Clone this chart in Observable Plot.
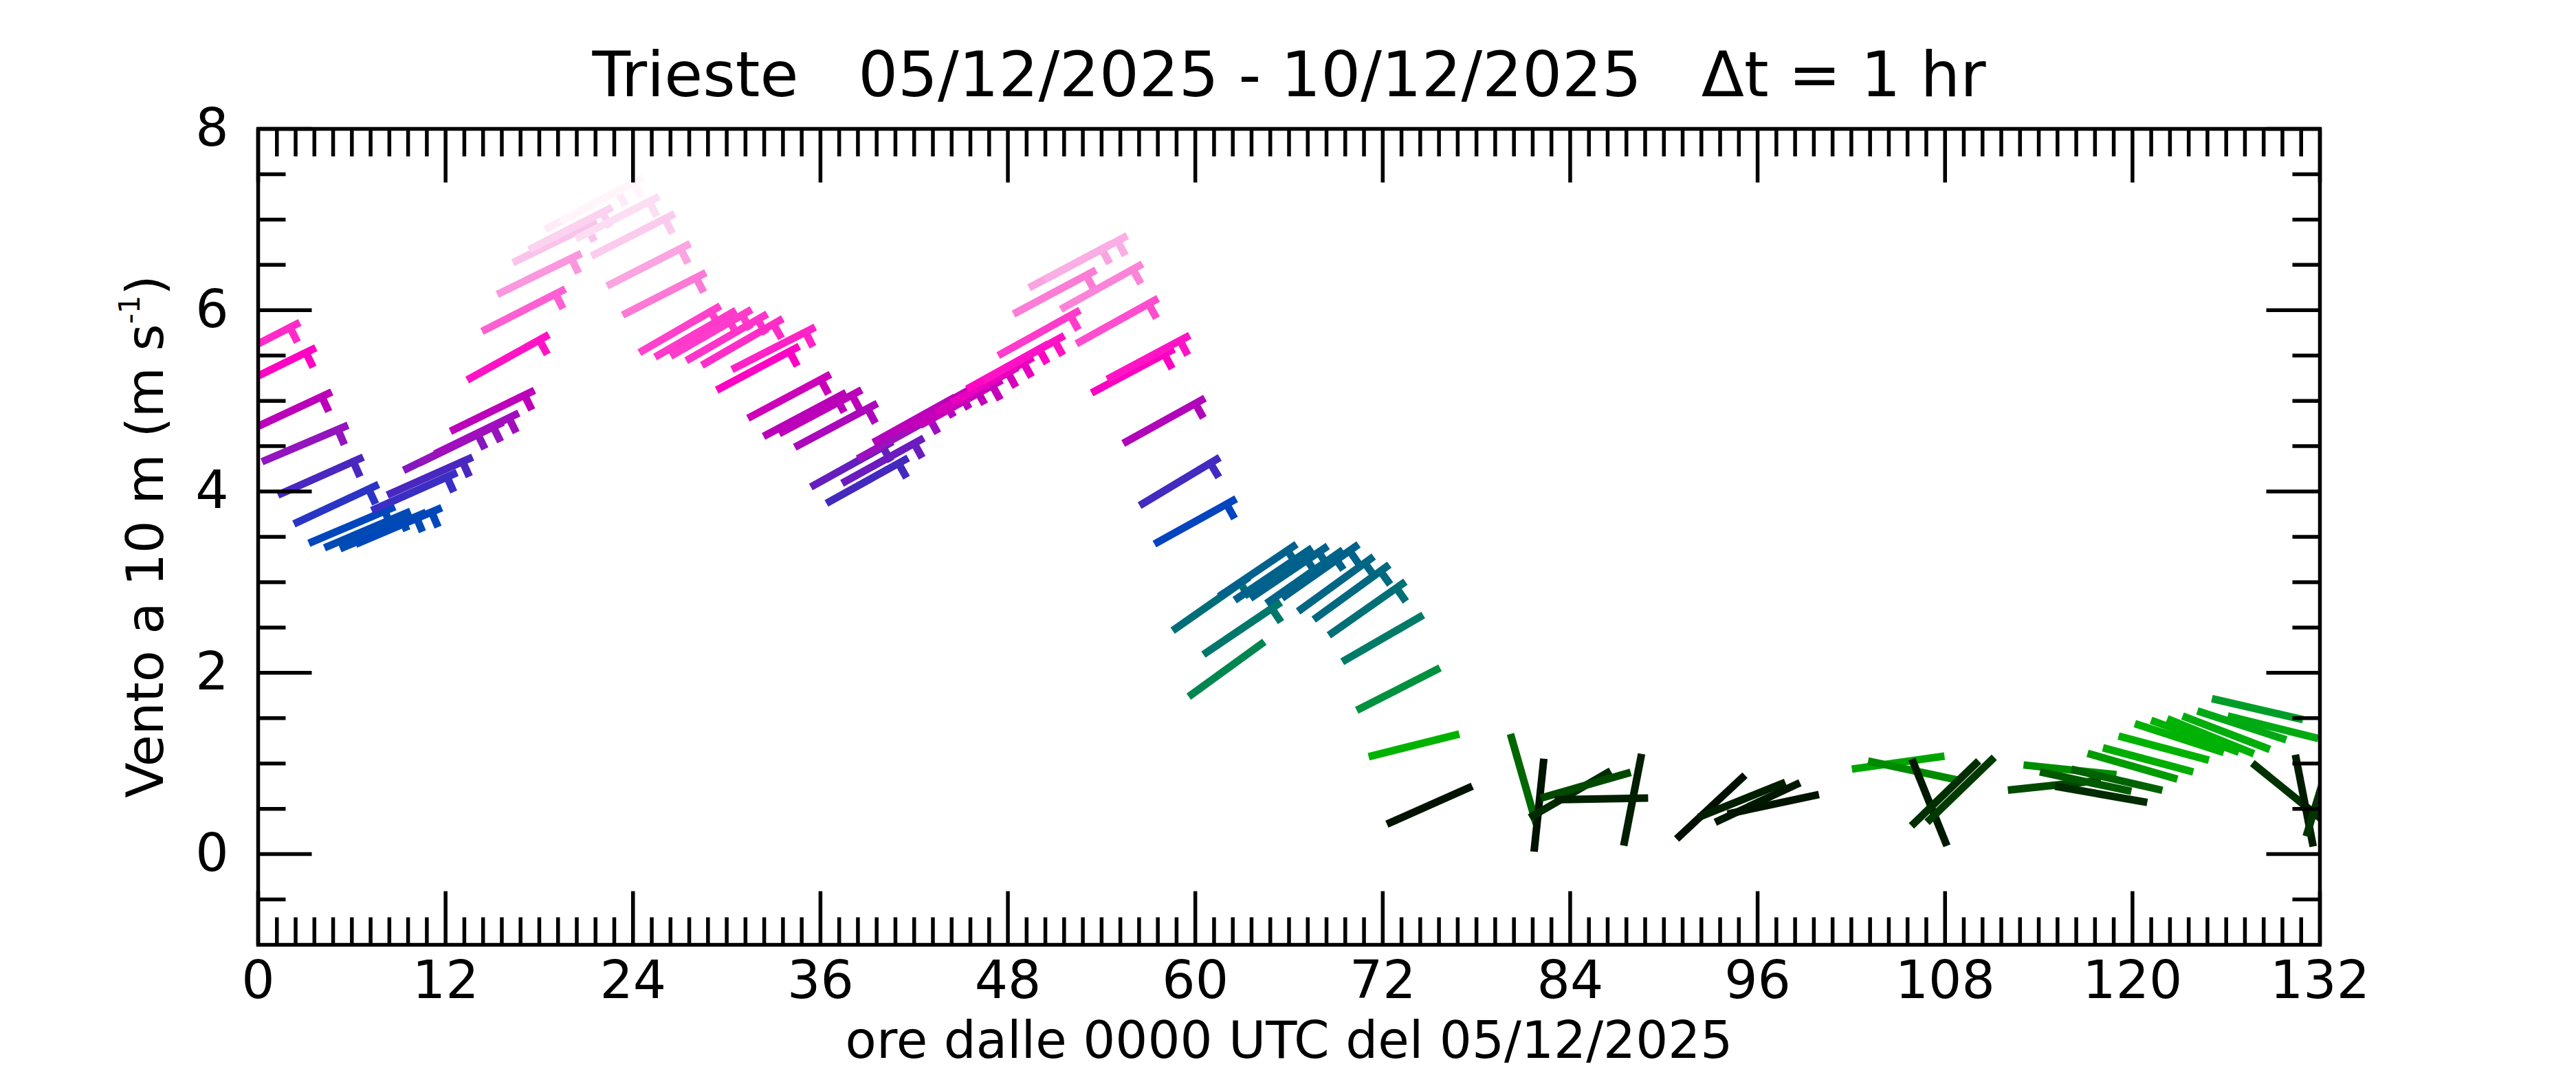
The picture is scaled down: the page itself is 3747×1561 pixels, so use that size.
<!DOCTYPE html>
<html>
<head>
<meta charset="utf-8">
<script src="https://cdn.jsdelivr.net/npm/d3@7"></script>
<script src="https://cdn.jsdelivr.net/npm/@observablehq/plot@0.6"></script>
<style>
html, body { margin: 0; padding: 0; background: #fff; }
svg text { white-space: pre; }
</style>
</head>
<body>
<div id="chart"></div>
<script>
// ---- data (hours since 00 UTC 05/12/2025, 10 m wind speed m/s, direction deg) ----
const hours = [0,1,2,3,4,5,6,7,8,9,10,11,12,13,14,15,16,17,18,19,20,21,22,23,24,25,26,27,28,29,30,31,32,33,34,35,36,37,38,39,40,41,42,43,44,45,46,47,48,49,50,51,52,53,54,55,56,57,58,59,60,61,62,63,64,65,66,67,68,69,70,71,72,73,74,75,81,82,84,85,86,88,93,95,96,97,105,106,107,108,109,115,116,117,118,119,120,121,122,123,124,125,126,127,128,129,130,131,132];
const speed = [5.63,5.36,4.88,4.53,4.17,3.86,3.63,3.58,3.57,3.62,4.00,4.17,4.46,4.54,4.64,4.89,5.48,6.00,6.40,6.75,6.90,7.13,7.22,7.02,6.83,6.50,6.18,5.79,5.74,5.75,5.70,5.65,5.36,5.58,5.05,4.85,4.88,4.73,4.30,4.12,4.34,4.61,4.79,4.88,4.93,4.98,5.12,5.23,5.38,5.47,5.75,6.20,6.49,6.58,6.26,5.88,5.33,5.48,4.78,4.11,3.67,2.76,2.04,2.49,3.13,3.09,3.11,3.06,3.12,2.98,2.89,2.71,2.38,1.82,1.20,0.54,0.83,0.54,0.66,0.76,0.61,0.60,0.52,0.60,0.57,0.55,1.01,0.92,0.57,0.67,0.71,0.76,0.93,0.80,0.66,0.82,0.97,1.04,1.17,1.28,1.30,1.30,1.34,1.42,1.60,1.40,0.68,0.59,0.69];
const direction = [63,64,65,67,66,65,67,67,67,67,66,66,64,64,64,64,61,63,64,64,63,62,62,63,63,63,63,60,60,60,60,60,62,63,62,62,62,62,61,61,61,61,61,61,61,61,61,61,61,61,61,62,62,62,61,61,62,62,61,59,61,55,54,56,56,56,56,55,55,54,54,55,60,63,76,66,344,6,60,74,89,11,47,68,65,78,82,102,158,46,46,84,96,102,100,103,106,105,105,108,110,112,111,108,103,104,129,169,17];
const xTickLabels = [0,12,24,36,48,60,72,84,96,108,120,132];
const yTickLabels = [0,2,4,6,8];
const titleText = "Trieste   05/12/2025 - 10/12/2025   Δt = 1 hr";
const xAxisTitle = "ore dalle 0000 UTC del 05/12/2025";
const yAxisTitle = "Vento a 10 m (m s";
const yAxisSup = "-1";

// colour scale (speed -> colour)
const colorDomain = [0,0.45,0.55,0.65,0.75,0.85,0.95,1.05,1.25,1.5,1.8,2.05,2.4,2.75,3.05,3.3,3.65,3.9,4.15,4.35,4.55,4.85,5.1,5.35,5.65,5.9,6.2,6.45,6.75,7.0,7.25];
const colorRange = ["#000000","#000000","#001400","#002800","#004600","#006e00","#009600","#00b000","#00b400","#00a41e","#00923c","#008650","#007a68","#006e78","#006488","#005a94","#0046be","#3232c8","#4628be","#6e1abe","#9614be","#b900b9","#d200b9","#ff00c3","#ff2dc8","#ff50d0","#fc7cd6","#fa9ee0","#fac3eb","#fcdcf2","#fff8fc"];

const wind = hours.map((t, i) => ({t, v: speed[i], dir: direction[i]}));
const barbMin = 2.45;

const stickShape = {draw(ctx, l) { ctx.moveTo(0, 0); ctx.lineTo(0, -l); }};
const barbShape = {draw(ctx, l) {
  ctx.moveTo(0, 0); ctx.lineTo(0, -l);
  const b = -(l - 16);
  ctx.moveTo(-5, b); ctx.lineTo(24, b);
}};

const xMinor = d3.range(0, 111).filter(i => i % 10 !== 0).map(i => i * 1.2);
const yMinor = d3.range(-1, 16).filter(i => i % 4 !== 0).map(i => i / 2);

const tickStyle = {shape: stickShape, anchor: "start", stroke: "black", strokeWidth: 5.5, strokeLinecap: "butt"};
const stickStyle = {x: "t", y: "v", rotate: "dir", length: 136, anchor: "middle", stroke: "v", strokeWidth: 11, strokeLinecap: "butt", clip: true};

const plot = Plot.plot({
  width: 3747,
  height: 1561,
  marginLeft: 375,
  marginRight: 373,
  marginTop: 187,
  marginBottom: 187,
  x: {domain: [0, 132], axis: null},
  y: {domain: [-1, 8], axis: null},
  color: {type: "linear", domain: colorDomain, range: colorRange, interpolate: "rgb", clamp: true},
  style: {fontFamily: "DejaVu Sans", background: "white", color: "black", overflow: "visible"},
  marks: [
    Plot.vector(wind, {...stickStyle, shape: stickShape, filter: d => d.v < barbMin}),
    Plot.vector(wind, {...stickStyle, shape: barbShape, filter: d => d.v >= barbMin}),
    // ticks (inward, all four sides)
    Plot.vector(xTickLabels, {x: d => d, frameAnchor: "bottom", rotate: 0, length: 78, ...tickStyle}),
    Plot.vector(xMinor, {x: d => d, frameAnchor: "bottom", rotate: 0, length: 40, ...tickStyle}),
    Plot.vector(xTickLabels, {x: d => d, frameAnchor: "top", rotate: 180, length: 78, ...tickStyle}),
    Plot.vector(xMinor, {x: d => d, frameAnchor: "top", rotate: 180, length: 40, ...tickStyle}),
    Plot.vector(yTickLabels, {y: d => d, frameAnchor: "left", rotate: 90, length: 78, ...tickStyle}),
    Plot.vector(yMinor, {y: d => d, frameAnchor: "left", rotate: 90, length: 40, ...tickStyle}),
    Plot.vector(yTickLabels, {y: d => d, frameAnchor: "right", rotate: -90, length: 78, ...tickStyle}),
    Plot.vector(yMinor, {y: d => d, frameAnchor: "right", rotate: -90, length: 40, ...tickStyle}),
    Plot.frame({stroke: "black", strokeWidth: 5.5}),
    // tick labels
    Plot.text(xTickLabels, {x: d => d, text: d => String(d), frameAnchor: "bottom", dy: 77, lineAnchor: "bottom", fontSize: 76}),
    Plot.text(yTickLabels, {y: d => d, text: d => String(d), frameAnchor: "left", dx: -43, textAnchor: "end", lineAnchor: "middle", fontSize: 76}),
    // titles
    Plot.text([titleText], {text: d => d, frameAnchor: "top", dy: -48, lineAnchor: "bottom", fontSize: 91}),
    Plot.text([xAxisTitle], {text: d => d, frameAnchor: "bottom", dy: 164, lineAnchor: "bottom", fontSize: 74})
  ]
});

document.getElementById("chart").appendChild(plot);

// y-axis title with superscript
const ys = plot.scale("y");
const yMid = (ys.apply(8) + ys.apply(-1)) / 2;
const yl = d3.select(plot).append("text")
  .attr("transform", `translate(237,${yMid}) rotate(-90)`)
  .attr("text-anchor", "middle")
  .attr("font-size", 75)
  .attr("font-family", "DejaVu Sans")
  .attr("fill", "black");
yl.append("tspan").text(yAxisTitle);
yl.append("tspan").attr("font-size", 42).attr("dy", -34).text(yAxisSup);
yl.append("tspan").attr("dy", 34).text(")");
</script>
</body>
</html>
